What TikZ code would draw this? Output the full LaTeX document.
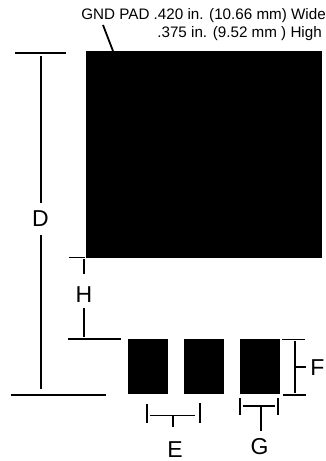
\documentclass[tikz,border=0pt]{standalone}
\usepackage{fontspec}
\setmainfont{Liberation Sans}
\tikzset{
  pad/.style={fill=black,draw=none},
  dim/.style={draw=black,line width=2pt,line cap=butt},
  dimthin/.style={draw=black,line width=1.8pt},
  biglabel/.style={font=\fontsize{23}{23}\selectfont,inner sep=0pt,anchor=center},
  smalllabel/.style={font=\fontsize{15.2}{16}\selectfont,inner sep=0pt}
}
\begin{document}
\begin{tikzpicture}[x=1pt,y=-1pt]
\useasboundingbox (0,0) rectangle (326,461);
% pads
\fill[pad] (85.5,50.5) rectangle (322,258);
\fill[pad] (127.5,338.5) rectangle (168,394);
\fill[pad] (183.5,338.5) rectangle (223.5,394);
\fill[pad] (239.7,338.5) rectangle (280.3,394);
% labels
\node[smalllabel,anchor=base east] (t1) at (326,19) {GND PAD .420 in. (10.66 mm) Wide};
\node[smalllabel,anchor=base east] (t2) at (322,37) {.375 in. (9.52 mm ) High};
\node[biglabel] (D) at (40.5,219) {D};
\node[biglabel] (H) at (84,295) {H};
\node[biglabel] (E) at (175,449.5) {E};
\node[biglabel] (G) at (259.5,446.5) {G};
\node[biglabel] (F) at (317.5,368) {F};
% leader
\coordinate (la) at (103,25);
\coordinate (lb) at (113,51);
\draw[dimthin] (la) -- (lb);
% D
\draw[dim] (15,52.5) -- (66,52.5);
\draw[dim] (10.5,395) -- (106,395);
\draw[dim] (40.5,56) -- (40.5,203);
\draw[dim] (40.5,235) -- (40.5,388.5);
% H
\draw[dimthin] (69,257.5) -- (85,257.5);
\draw[dimthin] (84,259) -- (84,273.5);
\draw[dimthin] (84,308) -- (84,337);
\draw[dimthin] (68,338.7) -- (120.5,338.7);
% E
\draw[dim] (146.5,404) -- (146.5,423);
\draw[dim] (199.7,403) -- (199.7,423);
\draw[dimthin] (150,415.5) -- (195,415.5);
\draw[dim] (173.3,415.5) -- (173.3,427);
% G
\draw[dim] (239.6,398) -- (239.6,415);
\draw[dim] (278,398) -- (278,415);
\draw[dimthin] (243,406) -- (275,406);
\draw[dimthin] (260.6,406) -- (260.6,431);
% F
\draw[dimthin] (282,339.5) -- (304.5,339.5);
\draw[dim] (283,395) -- (306,395);
\draw[dimthin] (294.7,341) -- (294.7,393);
\draw[dimthin] (294.7,367) -- (306,367);
\end{tikzpicture}
\end{document}
